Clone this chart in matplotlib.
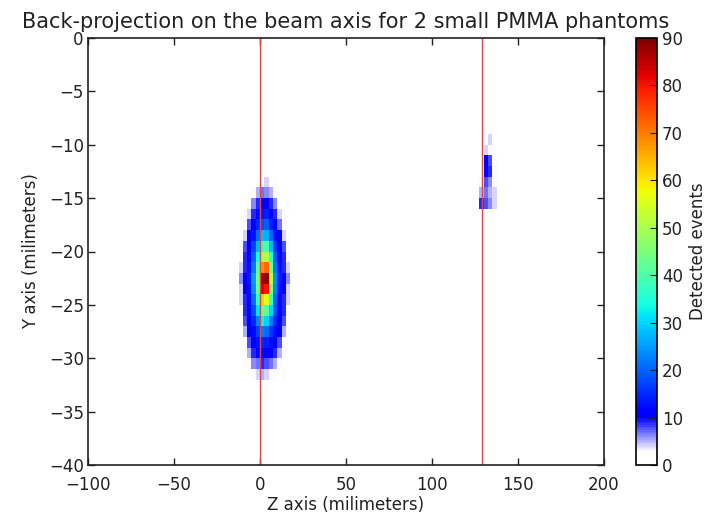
import numpy as np
import matplotlib
matplotlib.use('Agg')
import matplotlib.pyplot as plt
from matplotlib.colors import ListedColormap

# blob 1 (phantom near z = 0): 2.5 mm columns, 1 mm rows (top row first)
z1_edges = [-15, -12.5, -10, -7.5, -5, -2.5, 0, 2.5, 5, 7.5, 10, 12.5, 15, 17.5, 20]
y1_edges = [-13, -14, -15, -16, -17, -18, -19, -20, -21, -22, -23,
            -24, -25, -26, -27, -28, -29, -30, -31, -32, -33]
counts1 = [
    [0, 0, 0, 0, 2, 3, 3, 4, 2, 3, 0, 0, 0, 0],
    [0, 0, 0, 0, 3, 5, 7, 6, 5, 3, 2, 2, 0, 0],
    [0, 0, 0, 3, 6, 9, 11, 10, 9, 6, 2, 0, 3, 0],
    [0, 0, 3, 4, 9, 12, 13, 14, 11, 9, 4, 3, 0, 0],
    [0, 2, 3, 8, 11, 15, 18, 20, 14, 11, 7, 3, 2, 0],
    [0, 2, 4, 10, 13, 21, 28, 27, 20, 13, 10, 4, 3, 0],
    [0, 3, 8, 11, 17, 28, 38, 40, 28, 16, 11, 8, 3, 0],
    [0, 3, 9, 12, 20, 34, 50, 52, 36, 19, 12, 9, 3, 0],
    [3, 4, 9, 13, 22, 42, 68, 72, 44, 22, 13, 9, 4, 0],
    [2, 6, 10, 14, 25, 46, 86, 88, 52, 24, 14, 10, 6, 2],
    [0, 4, 10, 13, 24, 44, 82, 80, 46, 23, 13, 10, 4, 0],
    [0, 4, 9, 12, 21, 38, 62, 56, 38, 20, 12, 9, 4, 3],
    [0, 3, 9, 12, 18, 31, 44, 41, 30, 18, 12, 9, 3, 0],
    [2, 2, 8, 11, 15, 23, 33, 30, 22, 15, 11, 8, 2, 0],
    [0, 2, 5, 10, 12, 17, 22, 21, 16, 12, 10, 5, 3, 0],
    [0, 0, 3, 8, 11, 13, 15, 14, 12, 11, 8, 3, 0, 0],
    [0, 0, 2, 5, 9, 10, 12, 11, 10, 9, 5, 3, 2, 0],
    [0, 0, 3, 3, 6, 7, 9, 8, 7, 5, 3, 2, 0, 0],
    [0, 0, 0, 2, 3, 4, 5, 4, 3, 3, 2, 3, 0, 0],
    [0, 0, 0, 0, 0, 3, 0, 0, 0, 0, 2, 0, 0, 0],
]

# blob 2 (phantom near z = 130)
z2_edges = [127.5, 130, 132.5, 135, 137.5, 140]
y2_edges = [-9, -10, -11, -12, -13, -14, -15, -16]
counts2 = [
    [0, 0, 4, 0, 0],
    [0, 4, 3, 0, 0],
    [0, 11, 8, 3, 0],
    [2, 12, 9, 3, 0],
    [3, 8, 6, 3, 0],
    [5, 7, 5, 4, 0],
    [9, 8, 6, 4, 2],
]

# phantom positions along the beam axis
phantom_z = [0, 129]

# white -> blue below ~10 counts, jet above
jet = plt.get_cmap('jet')
pos = np.linspace(0, 1, 256)
cols = jet(pos)
white = np.array([1, 1, 1, 1.0])
blue = np.array(jet(0.11))
for i, p in enumerate(pos):
    if p < 0.11:
        t = max(0.0, (p - 0.03) / 0.08)
        cols[i] = white * (1 - t) + blue * t
cmap = ListedColormap(cols)

fig = plt.figure(figsize=(7.2, 5.15), dpi=100)
ax = fig.add_axes([88 / 720., 50 / 515., 516 / 720., 427 / 515.])
cax = fig.add_axes([636 / 720., 50 / 515., 21 / 720., 427 / 515.])

mesh = ax.pcolormesh(z1_edges, y1_edges, np.array(counts1), cmap=cmap, vmin=0, vmax=90)
ax.pcolormesh(z2_edges, y2_edges, np.array(counts2), cmap=cmap, vmin=0, vmax=90)

for z in phantom_z:
    ax.axvline(z, color='#d84a4a', lw=1.0)

ax.set_xlim(-100, 200)
ax.set_ylim(-40, 0)
ax.set_xticks(range(-100, 201, 50))
ax.set_yticks(range(-40, 1, 5))
ax.tick_params(direction='in', top=True, right=True, length=5, width=1,
               labelsize=12, pad=3, colors='#222222')
ax.tick_params(axis='x', pad=8)
for s in ax.spines.values():
    s.set_linewidth(1.2)
    s.set_color('#222222')

ax.set_xlabel('Z axis (milimeters)', fontsize=12, labelpad=1, color='#222222')
ax.set_ylabel('Y axis (milimeters)', fontsize=12, labelpad=6, color='#222222')
ax.set_title('Back-projection on the beam axis for 2 small PMMA phantoms',
             fontsize=15, pad=7, color='#222222')

cb = fig.colorbar(mesh, cax=cax, ticks=range(0, 91, 10))
cb.outline.set_linewidth(1.2)
cax.tick_params(direction='in', length=5, labelsize=12, colors='#222222')
cb.set_label('Detected events', fontsize=12, labelpad=4, color='#222222')

plt.savefig('out.png', dpi=100)
